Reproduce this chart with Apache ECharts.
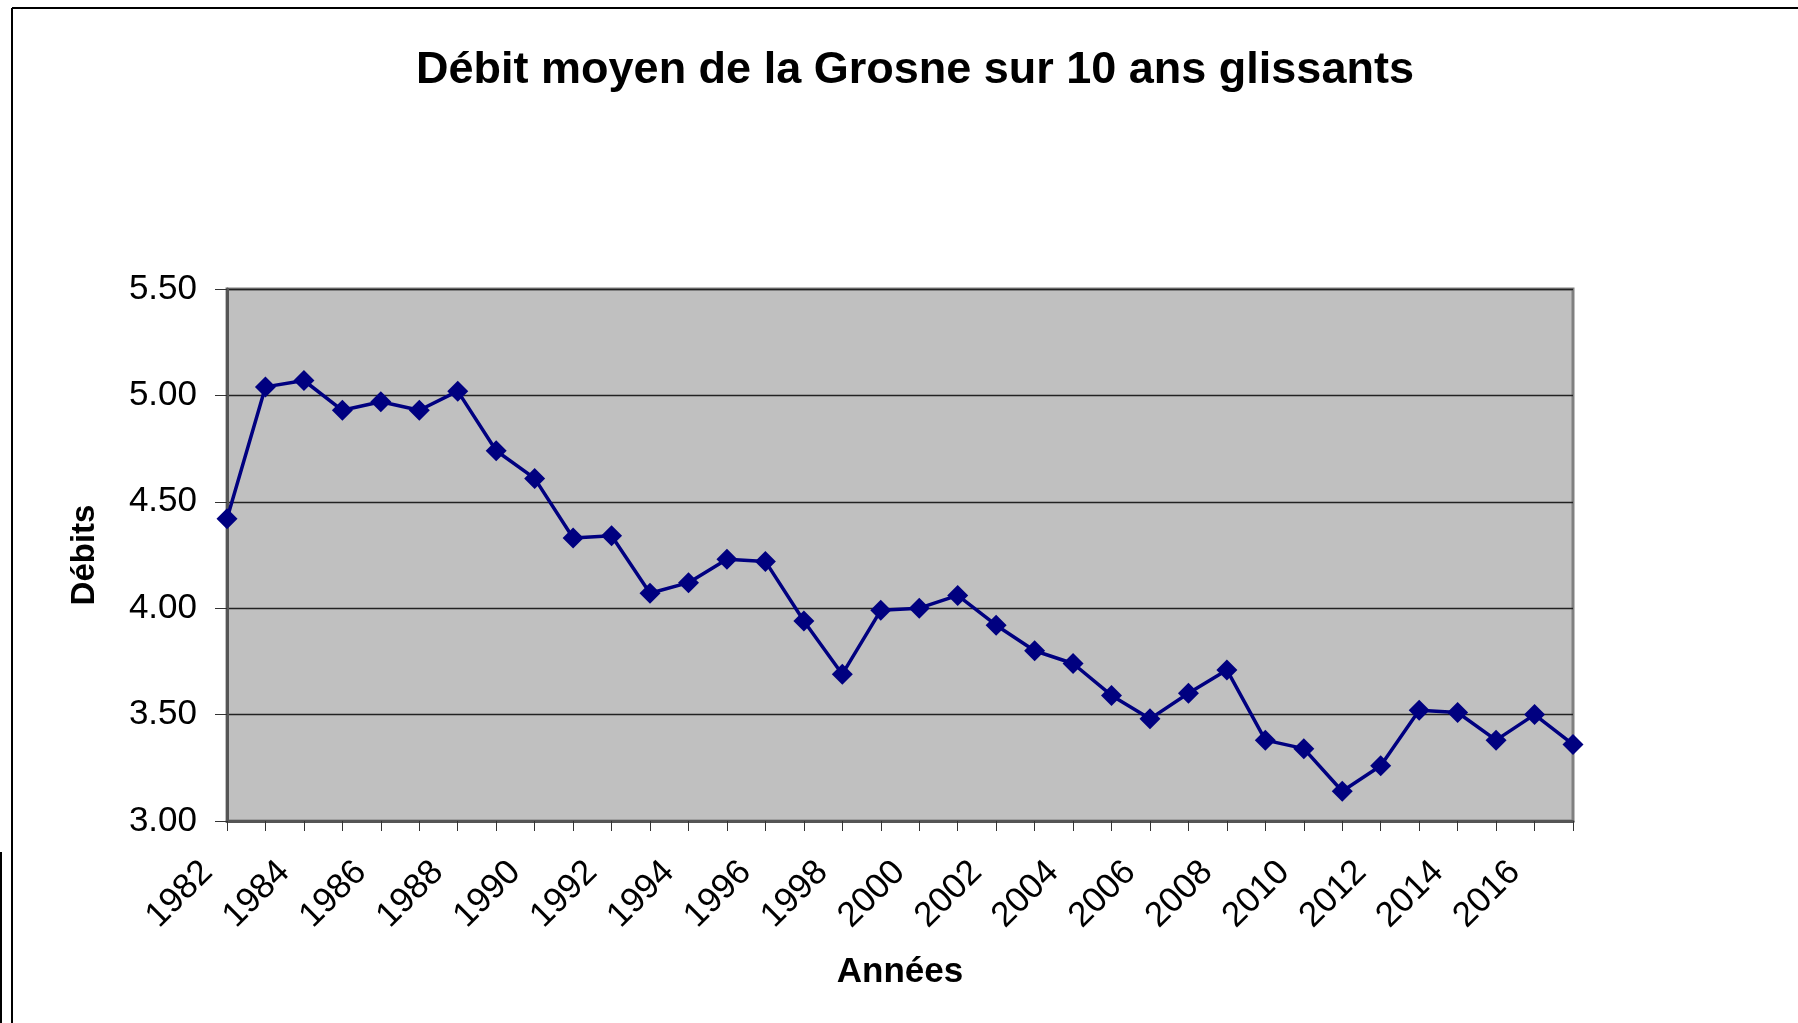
<!DOCTYPE html>
<html>
<head>
<meta charset="utf-8">
<script src="https://cdn.jsdelivr.net/npm/echarts@6/dist/echarts.min.js"></script>
<style>
html,body{margin:0;padding:0;background:#fff;}
#chart{width:1798px;height:1023px;}
</style>
</head>
<body>
<div id="chart"></div>
<script>
const years = ['1982','1983','1984','1985','1986','1987','1988','1989','1990','1991','1992','1993','1994','1995','1996','1997','1998','1999','2000','2001','2002','2003','2004','2005','2006','2007','2008','2009','2010','2011','2012','2013','2014','2015','2016','2017'];
const debits = [4.42,5.04,5.07,4.93,4.97,4.93,5.02,4.74,4.61,4.33,4.34,4.07,4.12,4.23,4.22,3.94,3.69,3.99,4.00,4.06,3.92,3.80,3.74,3.59,3.48,3.60,3.71,3.38,3.34,3.14,3.26,3.52,3.51,3.38,3.50,3.36];
const yTicks = [3.0, 3.5, 4.0, 4.5, 5.0, 5.5];
const titleText = 'Débit moyen de la Grosne sur 10 ans glissants';
const xName = 'Années';
const yName = 'Débits';

const FONT = '"Liberation Sans", Arial, sans-serif';
const chart = echarts.init(document.getElementById('chart'), null, {renderer: 'canvas'});
chart.setOption({
  backgroundColor: '#ffffff',
  animation: false,
  title: {
    text: titleText,
    left: 910,
    top: 43,
    textAlign: 'center',
    textStyle: {fontFamily: FONT, fontWeight: 'bold', fontSize: 45, color: '#000'}
  },
  graphic: [
    {type: 'line', shape: {x1: 12, y1: 8, x2: 1798, y2: 8}, style: {stroke: '#000', lineWidth: 2}, silent: true},
    {type: 'line', shape: {x1: 12, y1: 8, x2: 12, y2: 1023}, style: {stroke: '#000', lineWidth: 2}, silent: true},
    {type: 'line', shape: {x1: 1, y1: 852, x2: 1, y2: 1023}, style: {stroke: '#000', lineWidth: 2}, silent: true}
  ],
  grid: {
    left: 227, top: 289, width: 1346, height: 532,
    show: true, backgroundColor: '#C0C0C0', borderColor: '#808080', borderWidth: 3,
    containLabel: false
  },
  xAxis: {
    type: 'category',
    data: years,
    boundaryGap: false,
    name: xName,
    nameLocation: 'middle',
    nameGap: 134,
    nameTextStyle: {fontFamily: FONT, fontWeight: 'bold', fontSize: 35, color: '#000'},
    axisLine: {show: true, lineStyle: {color: '#555', width: 3}},
    axisTick: {show: true, interval: 0, length: 10, lineStyle: {color: '#333', width: 1}},
    axisLabel: {interval: 1, rotate: 45, margin: 26, padding: [0, 28, 0, 0], fontFamily: FONT, fontSize: 35, color: '#000'},
    splitLine: {show: false}
  },
  yAxis: {
    type: 'value',
    min: yTicks[0],
    max: yTicks[yTicks.length - 1],
    interval: 0.5,
    name: yName,
    nameLocation: 'middle',
    nameGap: 126,
    nameTextStyle: {fontFamily: FONT, fontWeight: 'bold', fontSize: 33, color: '#000'},
    axisLine: {show: true, lineStyle: {color: '#555', width: 3}},
    axisTick: {show: true, inside: false, length: 12, lineStyle: {color: '#333', width: 1}},
    axisLabel: {margin: 30, fontFamily: FONT, fontSize: 35, color: '#000', formatter: v => v.toFixed(2)},
    splitLine: {show: true, lineStyle: {color: '#222', width: 1.3}}
  },
  series: [{
    type: 'line',
    data: debits,
    symbol: 'diamond',
    symbolSize: 21,
    showSymbol: true,
    lineStyle: {color: '#000080', width: 3.5},
    itemStyle: {color: '#000080'},
    z: 5
  }]
});
</script>
</body>
</html>
